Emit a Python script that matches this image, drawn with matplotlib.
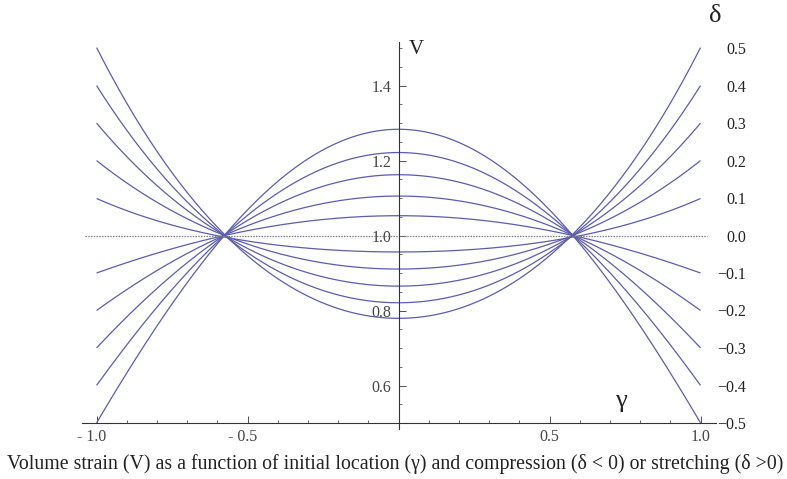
import numpy as np
import matplotlib
matplotlib.use("Agg")
import matplotlib.pyplot as plt
import matplotlib.transforms as mtransforms
from matplotlib.ticker import FixedLocator

plt.rcParams['font.family'] = ['Liberation Serif', 'DejaVu Serif']

# Compression / stretching parameter for each curve
deltas = [-0.5, -0.4, -0.3, -0.2, -0.1, 0.1, 0.2, 0.3, 0.4, 0.5]

# Initial locations (gamma >= 0) where the volume strain was sampled;
# the curves are symmetric in gamma
gamma_pts = [0.0, 0.3, 0.577, 0.8, 1.0]

# Volume strain V at gamma_pts, one list per delta
V_m05 = [1.286, 1.201, 1.0, 0.760, 0.5]
V_m04 = [1.223, 1.158, 1.0, 0.810, 0.6]
V_m03 = [1.163, 1.117, 1.0, 0.860, 0.7]
V_m02 = [1.105, 1.077, 1.0, 0.907, 0.8]
V_m01 = [1.053, 1.038, 1.0, 0.953, 0.9]
V_p01 = [0.954, 0.967, 1.0, 1.035, 1.1]
V_p02 = [0.909, 0.936, 1.0, 1.088, 1.2]
V_p03 = [0.863, 0.903, 1.0, 1.132, 1.3]
V_p04 = [0.819, 0.870, 1.0, 1.177, 1.4]
V_p05 = [0.781, 0.837, 1.0, 1.228, 1.5]
V_series = [V_m05, V_m04, V_m03, V_m02, V_m01, V_p01, V_p02, V_p03, V_p04, V_p05]

# Undeformed case (delta = 0)
V_zero = 1.0

x_major = [-1.0, -0.5, 0.5, 1.0]
x_labels = ["- 1.0", "- 0.5", "0.5", "1.0"]
y_major = [0.6, 0.8, 1.0, 1.2, 1.4]
y_labels = ["0.6", "0.8", "1.0", "1.2", "1.4"]
delta_ticks = [0.5, 0.4, 0.3, 0.2, 0.1, 0.0, -0.1, -0.2, -0.3, -0.4, -0.5]

curve_color = '#5c5cb2'
axis_color = '#333333'
label_color = '#444444'

W, H = 787, 479
fig = plt.figure(figsize=(W / 100, H / 100), dpi=100)
left_px, right_px, top_px, bottom_px = 81.5, 715.6, 40.5, 423.0
ax = fig.add_axes([left_px / W, 1 - bottom_px / H,
                   (right_px - left_px) / W, (bottom_px - top_px) / H])
ax.set_xlim(-1.05, 1.05)
ax.set_ylim(0.5, 1.52)

# Smooth curve through the sampled points (even in gamma)
g = np.linspace(-1.0, 1.0, 401)
gp = np.array(gamma_pts)
for vals in V_series:
    coef = np.polyfit(gp ** 2, np.array(vals), 2)
    ax.plot(g, np.polyval(coef, g ** 2), color=curve_color, lw=0.9,
            solid_capstyle='butt')

ax.hlines(V_zero, -1.04, 1.02, color='#808080', lw=0.9,
          linestyles=(0, (1.2, 1.0)))

# Mathematica-style axes crossing inside the frame
for s in ['top', 'right']:
    ax.spines[s].set_visible(False)
ax.spines['left'].set_position(('data', 0.0))
ax.spines['left'].set_bounds(0.485, 1.517)
for s in ['left', 'bottom']:
    ax.spines[s].set_color(axis_color)
    ax.spines[s].set_linewidth(0.8)

ax.xaxis.set_major_locator(FixedLocator(x_major))
ax.set_xticklabels(x_labels)
ax.xaxis.set_minor_locator(FixedLocator(
    [v / 10 for v in range(-10, 11) if v not in (-10, -5, 0, 5, 10)]))
ax.yaxis.set_major_locator(FixedLocator(y_major))
ax.set_yticklabels(y_labels)
ax.yaxis.set_minor_locator(FixedLocator(
    [0.5 + 0.05 * i for i in range(21) if round(0.5 + 0.05 * i, 2) not in y_major]))

ax.tick_params(axis='both', which='major', direction='in', length=5,
               width=0.6, color=axis_color, labelsize=11.5, labelcolor=label_color)
ax.tick_params(axis='both', which='minor', direction='in', length=2.5,
               width=0.5, color=axis_color)
ax.tick_params(axis='x', which='major', pad=4)
ax.tick_params(axis='y', which='major', pad=5)

# negative gamma labels sit slightly left of their ticks
shift = mtransforms.ScaledTranslation(-5 / 100, 0, fig.dpi_scale_trans)
for lbl, val in zip(ax.get_xticklabels(), x_major):
    if val < 0:
        lbl.set_transform(lbl.get_transform() + shift)

# Right-hand delta scale: delta = V - 1 at the curve ends
ax2 = ax.twinx()
ax2.set_ylim(ax.get_ylim())
for s in ['top', 'right', 'left', 'bottom']:
    ax2.spines[s].set_visible(False)
ax2.set_yticks([1 + d for d in delta_ticks])
ax2.set_yticklabels([("\u2212%.1f" % abs(d)) if d < 0 else "%.1f" % d
                     for d in delta_ticks])
ax2.tick_params(axis='y', length=0, pad=22, labelsize=11.5, labelcolor='#222222')
for t in ax2.get_yticklabels():
    t.set_horizontalalignment('right')

fig.text(416 / W, 1 - 50 / H, "V", fontsize=15, ha='center', va='center',
         color='#222222')
fig.text(621 / W, 1 - 401 / H, "\u03b3", fontsize=19, ha='center',
         va='center', color='#222222')
fig.text(715 / W, 1 - 16 / H, "\u03b4", fontsize=19, ha='center',
         va='center', color='#222222')

fig.text(395 / W, 1 - 464 / H,
         "Volume strain (V) as a function of initial location (\u03b3) and "
         "compression (\u03b4 < 0) or stretching (\u03b4 >0)",
         fontsize=14.3, ha='center', va='center', color='#222222')

fig.savefig("out.png", dpi=100)
